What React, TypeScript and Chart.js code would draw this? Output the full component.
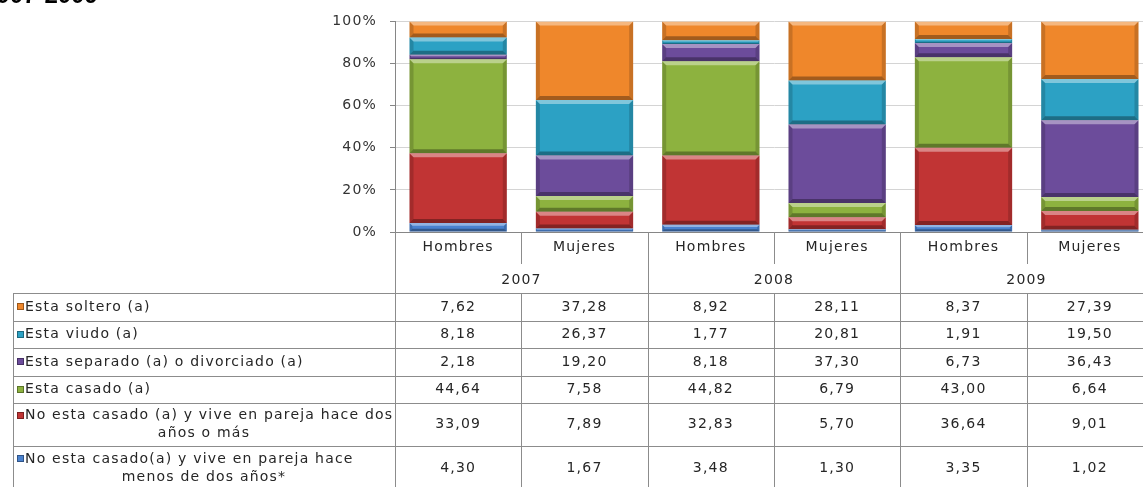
import { useEffect, useRef } from "react";
import { Chart, registerables } from "chart.js";

Chart.register(...registerables);

// ---------- data ----------
const categories = ["Hombres", "Mujeres", "Hombres", "Mujeres", "Hombres", "Mujeres"];
const years = ["2007", "2008", "2009"];
const soltero = [7.62, 37.28, 8.92, 28.11, 8.37, 27.39];
const viudo = [8.18, 26.37, 1.77, 20.81, 1.91, 19.5];
const separado = [2.18, 19.2, 8.18, 37.3, 6.73, 36.43];
const casado = [44.64, 7.58, 44.82, 6.79, 43.0, 6.64];
const parejaMas = [33.09, 7.89, 32.83, 5.7, 36.64, 9.01];
const parejaMenos = [4.3, 1.67, 3.48, 1.3, 3.35, 1.02];
const yTicks = [0, 20, 40, 60, 80, 100];
const titleText = "2007-2009";

const labelSoltero = ["Esta soltero (a)"];
const labelViudo = ["Esta viudo (a)"];
const labelSeparado = ["Esta separado (a) o divorciado (a)"];
const labelCasado = ["Esta casado (a)"];
const labelParejaMas = ["No esta casado (a) y vive en pareja hace dos", "años o más"];
const labelParejaMenos = ["No esta casado(a) y vive en pareja hace", "menos de dos años*"];

// ---------- styles ----------
const FONT = '"DejaVu Sans", Verdana, sans-serif';
const TEXT = "#262626";
const GRID = "#d4d4d4";
const AXIS = "#868686";
const TABLE_LINE = "#8c8c8c";
const C_SOLTERO = "#EF872B";
const C_VIUDO = "#2CA1C4";
const C_SEPARADO = "#6C4C9B";
const C_CASADO = "#8DB23F";
const C_MAS = "#C13434";
const C_MENOS = "#4A82CF";

// table rows, top to bottom
const tableRows = [
  { label: labelSoltero, values: soltero, color: C_SOLTERO },
  { label: labelViudo, values: viudo, color: C_VIUDO },
  { label: labelSeparado, values: separado, color: C_SEPARADO },
  { label: labelCasado, values: casado, color: C_CASADO },
  { label: labelParejaMas, values: parejaMas, color: C_MAS },
  { label: labelParejaMenos, values: parejaMenos, color: C_MENOS },
];
const rowHeights = [28, 27, 28, 27, 43, 44];

const fmt = (v: number) => v.toFixed(2).replace(".", ",");

const spacingPlugin = {
  id: "spacing",
  beforeDraw(chart: any) {
    (chart.ctx as any).letterSpacing = "1.2px";
  },
};

const bevelPlugin = {
  id: "bevel",
  afterDatasetsDraw(chart: any) {
    const ctx = chart.ctx;
    ctx.save();
    const poly = (pts: number[][]) => {
      ctx.beginPath();
      ctx.moveTo(pts[0][0], pts[0][1]);
      for (let i = 1; i < pts.length; i++) ctx.lineTo(pts[i][0], pts[i][1]);
      ctx.closePath();
      ctx.fill();
    };
    chart.data.datasets.forEach((_: any, di: number) => {
      const meta = chart.getDatasetMeta(di);
      meta.data.forEach((el: any) => {
        const { x, y, base, width } = el.getProps(["x", "y", "base", "width"], true);
        const l = x - width / 2;
        const r = x + width / 2;
        const t = Math.min(y, base);
        const b = Math.max(y, base);
        const h = b - t;
        if (h <= 0) return;
        const bv = Math.max(1, Math.min(4, h / 3));
        ctx.fillStyle = "rgba(0,0,0,0.16)";
        poly([[l, t], [l + bv, t + bv], [l + bv, b - bv], [l, b]]);
        poly([[r, t], [r - bv, t + bv], [r - bv, b - bv], [r, b]]);
        ctx.fillStyle = "rgba(255,255,255,0.4)";
        poly([[l, t], [r, t], [r - bv, t + bv], [l + bv, t + bv]]);
        ctx.fillStyle = "rgba(0,0,0,0.32)";
        poly([[l, b], [r, b], [r - bv, b - bv], [l + bv, b - bv]]);
      });
    });
    ctx.restore();
  },
};

const tablePlugin = {
  id: "dataTable",
  afterDraw(chart: any) {
    const ctx = chart.ctx;
    const area = chart.chartArea;
    const xs = chart.scales.x;
    const n = categories.length;
    const cw = xs.getPixelForValue(1) - xs.getPixelForValue(0);
    const x0 = xs.getPixelForValue(0) - cw / 2;
    const edges: number[] = [];
    for (let i = 0; i <= n; i++) edges.push(Math.round(x0 + i * cw));
    const top = Math.round(area.bottom);
    const shortEnd = top + 32;
    const rowsTop = top + 61;
    const tableLeft = 13;
    const rowTops: number[] = [];
    let yy = rowsTop;
    rowHeights.forEach((h) => {
      rowTops.push(yy);
      yy += h;
    });
    const tableBottom = yy;

    ctx.save();
    ctx.strokeStyle = TABLE_LINE;
    ctx.lineWidth = 1;
    const line = (x1: number, y1: number, x2: number, y2: number) => {
      ctx.beginPath();
      ctx.moveTo(x1, y1);
      ctx.lineTo(x2, y2);
      ctx.stroke();
    };
    edges.forEach((ex, i) => {
      const px = ex + 0.5;
      if (i % 2 === 0) line(px, top, px, tableBottom);
      else {
        line(px, top, px, shortEnd);
        line(px, rowsTop, px, tableBottom);
      }
    });
    line(tableLeft + 0.5, rowsTop, tableLeft + 0.5, tableBottom);
    line(tableLeft, rowsTop + 0.5, edges[n], rowsTop + 0.5);
    rowTops.forEach((rt, i) => line(tableLeft, rt + rowHeights[i] + 0.5, edges[n], rt + rowHeights[i] + 0.5));

    ctx.fillStyle = TEXT;
    ctx.font = `14px ${FONT}`;
    ctx.letterSpacing = "1.2px";
    ctx.textBaseline = "middle";
    ctx.textAlign = "center";
    categories.forEach((c, i) => {
      ctx.fillText(c, xs.getPixelForValue(i), top + 15);
    });
    years.forEach((yr, g) => {
      ctx.fillText(yr, (edges[2 * g] + edges[2 * g + 2]) / 2, top + 48);
    });
    tableRows.forEach((row, r) => {
      const cy = rowTops[r] + rowHeights[r] / 2;
      row.values.forEach((v, i) => {
        ctx.fillStyle = TEXT;
        ctx.textAlign = "center";
        ctx.fillText(fmt(v), xs.getPixelForValue(i), cy);
      });
      const lines = row.label;
      const y1 = lines.length > 1 ? cy - 9 : cy;
      ctx.fillStyle = row.color;
      ctx.fillRect(17, Math.round(y1) - 4, 7, 7);
      ctx.strokeStyle = "rgba(0,0,0,0.35)";
      ctx.strokeRect(17.5, Math.round(y1) - 3.5, 6, 6);
      ctx.fillStyle = TEXT;
      ctx.textAlign = "left";
      ctx.fillText(lines[0], 25, y1);
      if (lines.length > 1) {
        ctx.textAlign = "center";
        ctx.fillText(lines[1], (tableLeft + edges[0]) / 2, cy + 9);
      }
    });

    // cropped title at the very top
    ctx.letterSpacing = "0px";
    ctx.fillStyle = "#000";
    ctx.font = 'bold 24px "Liberation Sans", Arial, sans-serif';
    ctx.textAlign = "left";
    ctx.textBaseline = "alphabetic";
    ctx.fillText(titleText, -17, 3);
    ctx.restore();
  },
};

export default function App() {
  const ref = useRef<HTMLCanvasElement>(null);
  useEffect(() => {
    if (!ref.current) return;
    const chart = new Chart(ref.current, {
      type: "bar",
      data: {
        labels: categories,
        datasets: [
          { label: labelParejaMenos.join(" "), data: parejaMenos, backgroundColor: C_MENOS },
          { label: labelParejaMas.join(" "), data: parejaMas, backgroundColor: C_MAS },
          { label: labelCasado[0], data: casado, backgroundColor: C_CASADO },
          { label: labelSeparado[0], data: separado, backgroundColor: C_SEPARADO },
          { label: labelViudo[0], data: viudo, backgroundColor: C_VIUDO },
          { label: labelSoltero[0], data: soltero, backgroundColor: C_SOLTERO },
        ].map((d) => ({ ...d, borderWidth: 0, barPercentage: 0.77, categoryPercentage: 1 })),
      },
      options: {
        responsive: false,
        animation: false,
        layout: { padding: { left: 0, right: 7, top: 20, bottom: 255 } },
        plugins: {
          legend: { display: false },
          tooltip: { enabled: false },
          title: { display: false },
        },
        scales: {
          x: { display: false, stacked: true, offset: true },
          y: {
            stacked: true,
            min: yTicks[0],
            max: yTicks[yTicks.length - 1],
            afterBuildTicks: (s: any) => {
              s.ticks = yTicks.map((v) => ({ value: v }));
            },
            afterFit: (s: any) => {
              s.width = 395;
            },
            ticks: {
              callback: (v: any) => v + "%",
              font: { family: FONT, size: 14 },
              color: "#333333",
              padding: 13,
            },
            grid: {
              color: (c: any) => (c.tick && c.tick.value === 0 ? AXIS : GRID),
              tickColor: AXIS,
              tickLength: 5,
            },
            border: { color: AXIS },
          },
        },
      },
      plugins: [spacingPlugin, bevelPlugin, tablePlugin],
    });
    return () => chart.destroy();
  }, []);
  return (
    <div style={{ position: "absolute", left: 0, top: 0, width: 1143, height: 487, overflow: "hidden", background: "#fff" }}>
      <canvas ref={ref} width={1160} height={487} style={{ display: "block" }} />
    </div>
  );
}
